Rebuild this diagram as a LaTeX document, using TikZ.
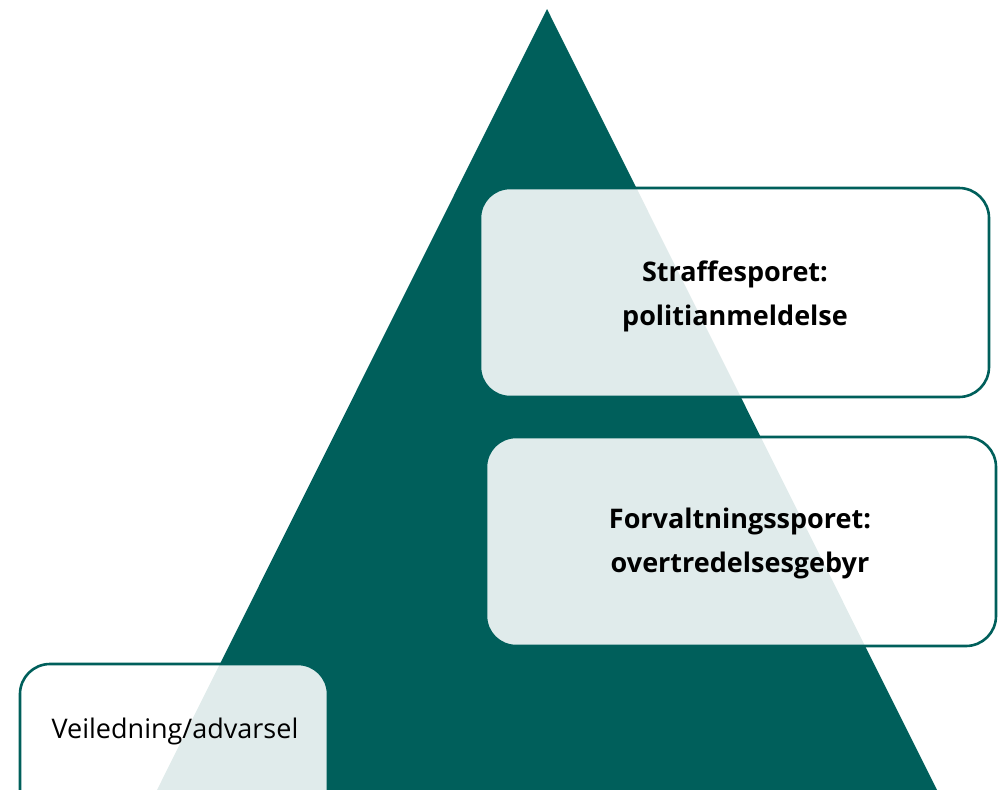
\documentclass[tikz,border=0pt]{standalone}
\usepackage{fontspec}
\setmainfont{Open Sans}
\definecolor{teal1}{RGB}{0,95,91}
\begin{document}
\begin{tikzpicture}[x=1pt,y=-1pt,
  box/.style={draw=teal1, line width=2.6pt, rounded corners=30pt, fill=white, fill opacity=0.88, text opacity=1, inner sep=0pt, outer sep=0pt},
  lbl/.style={font=\fontsize{27}{44}\selectfont\bfseries, align=center, text=black},
  plain/.style={font=\fontsize{27}{30}\selectfont, text=black}]
\useasboundingbox (0,0) rectangle (1002,790);
\clip (0,0) rectangle (1002,790);
\fill[teal1] (547,9) coordinate (apex) -- (937,790) coordinate (br) -- (157,790) coordinate (bl) -- cycle;
\node[box, anchor=north west, minimum width=509pt, minimum height=209pt] (b1) at (480,188) {};
\node[box, anchor=north west, minimum width=510pt, minimum height=209pt] (b2) at (486,437) {};
\node[box, anchor=north west, minimum width=308pt, minimum height=170pt] (b3) at (20,664) {};
\node[lbl] (t1) at (735,296) {Straffesporet:\\politianmeldelse};
\node[lbl] (t2) at (740,543) {Forvaltningssporet:\\overtredelsesgebyr};
\node[plain] (t3) at (175,731) {Veiledning/advarsel};
\end{tikzpicture}
\end{document}
